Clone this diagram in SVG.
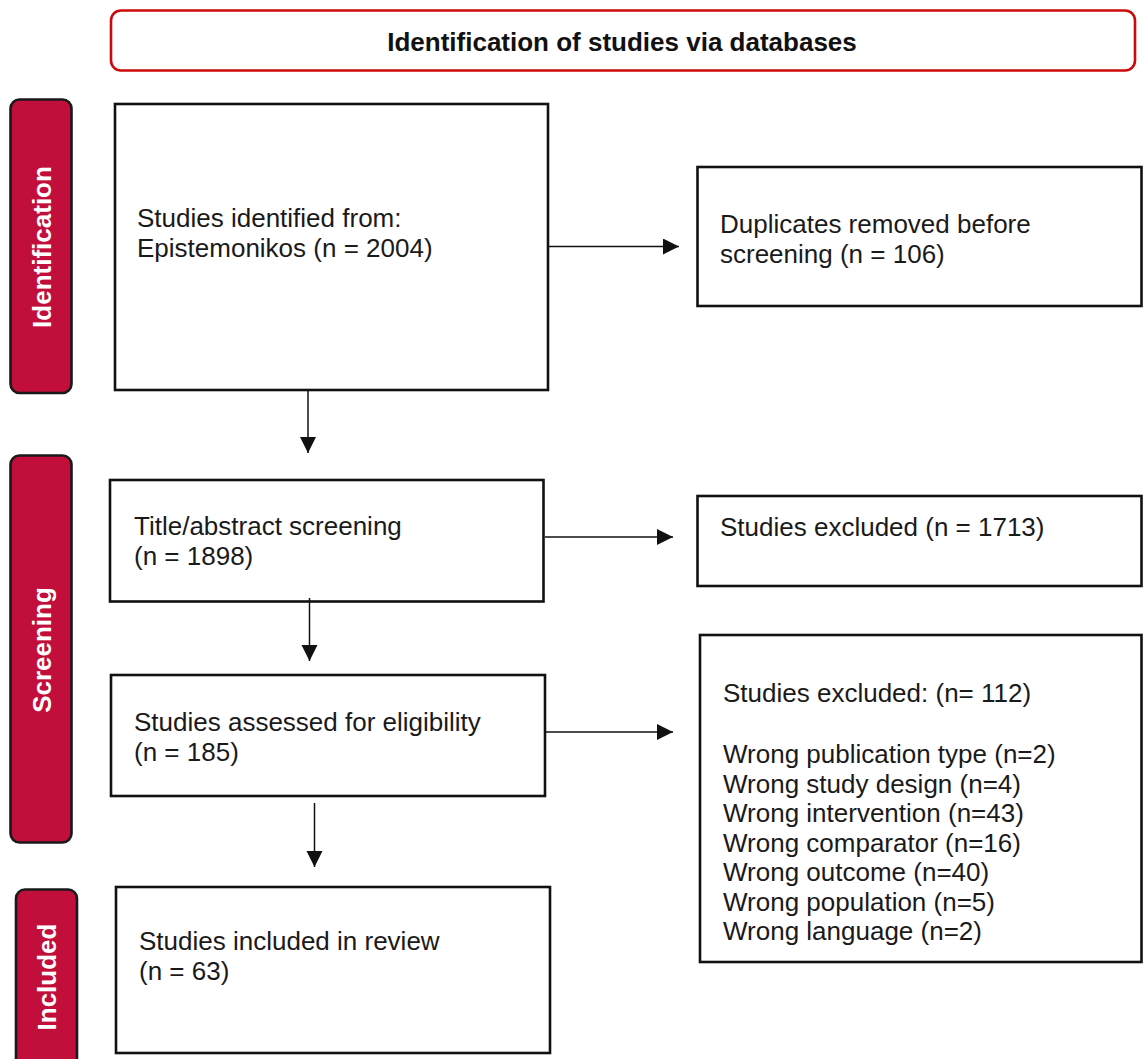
<svg xmlns="http://www.w3.org/2000/svg" width="1143" height="1059" viewBox="0 0 1143 1059">
  <style>
    .box { fill: #ffffff; stroke: #111111; stroke-width: 2.6; }
    .pill { fill: #c20e3a; stroke: #1a1a1a; stroke-width: 2.6; }
    .hdr { fill: #ffffff; stroke: #cc0a0a; stroke-width: 2.6; }
    .t { font-family: "Liberation Sans", Arial, sans-serif; font-size: 26px; fill: #1a1a1a; }
    .title { font-family: "Liberation Sans", Arial, sans-serif; font-size: 26px; font-weight: bold; fill: #111111; }
    .pt { font-family: "Liberation Sans", Arial, sans-serif; font-size: 26px; font-weight: bold; fill: #ffffff; }
    .conn { stroke: #111111; stroke-width: 1.5; fill: none; }
  </style>
  <defs>
    <marker id="arr" markerUnits="userSpaceOnUse" markerWidth="17" markerHeight="17" refX="16" refY="8" orient="auto">
      <path d="M0,0 L16,8 L0,16 z" fill="#111111"/>
    </marker>
  </defs>
  <rect width="1143" height="1059" fill="#ffffff"/>

  <g id="header">
    <rect class="hdr" x="111" y="10.5" width="1024" height="60" rx="10"/>
    <text class="title" x="622" y="51" text-anchor="middle">Identification of studies via databases</text>
  </g>

  <g id="phase-identification">
    <rect class="pill" x="10.5" y="99.5" width="61" height="293.5" rx="9"/>
    <text class="pt" text-anchor="middle" transform="translate(50.5,247) rotate(-90)">Identification</text>
  </g>
  <g id="phase-screening">
    <rect class="pill" x="10.5" y="455.5" width="61" height="387" rx="9"/>
    <text class="pt" text-anchor="middle" transform="translate(50.5,650) rotate(-90)">Screening</text>
  </g>
  <g id="phase-included">
    <rect class="pill" x="16" y="889.5" width="61" height="180" rx="9"/>
    <text class="pt" text-anchor="middle" transform="translate(56,977) rotate(-90)">Included</text>
  </g>

  <g id="identified">
    <rect class="box" x="115" y="104" width="433" height="286"/>
    <text class="t" x="137" y="227">Studies identified from:</text>
    <text class="t" x="137" y="257">Epistemonikos (n = 2004)</text>
  </g>
  <g id="duplicates">
    <rect class="box" x="697.5" y="167" width="444" height="139"/>
    <text class="t" x="720" y="233">Duplicates removed before</text>
    <text class="t" x="720" y="263">screening (n = 106)</text>
  </g>
  <g id="screened">
    <rect class="box" x="110" y="480" width="433.5" height="121.5"/>
    <text class="t" x="134" y="535">Title/abstract screening</text>
    <text class="t" x="134" y="565">(n = 1898)</text>
  </g>
  <g id="excluded-screening">
    <rect class="box" x="697.5" y="496" width="444" height="90"/>
    <text class="t" x="720" y="536">Studies excluded (n = 1713)</text>
  </g>
  <g id="eligibility">
    <rect class="box" x="111" y="675" width="434" height="121"/>
    <text class="t" x="134" y="731">Studies assessed for eligibility</text>
    <text class="t" x="134" y="761">(n = 185)</text>
  </g>
  <g id="excluded-eligibility">
    <rect class="box" x="700" y="635" width="441.5" height="327"/>
    <text class="t" x="723" y="702">Studies excluded: (n= 112)</text>
    <text class="t" x="723" y="763">Wrong publication type (n=2)</text>
    <text class="t" x="723" y="792.5">Wrong study design (n=4)</text>
    <text class="t" x="723" y="822">Wrong intervention (n=43)</text>
    <text class="t" x="723" y="851.5">Wrong comparator (n=16)</text>
    <text class="t" x="723" y="881">Wrong outcome (n=40)</text>
    <text class="t" x="723" y="910.5">Wrong population (n=5)</text>
    <text class="t" x="723" y="940">Wrong language (n=2)</text>
  </g>
  <g id="included">
    <rect class="box" x="116" y="887" width="434" height="166"/>
    <text class="t" x="139" y="950">Studies included in review</text>
    <text class="t" x="139" y="980">(n = 63)</text>
  </g>

  <g id="connectors">
    <path class="conn" d="M549,246.5 H679" marker-end="url(#arr)"/>
    <path class="conn" d="M308,391 V453" marker-end="url(#arr)"/>
    <path class="conn" d="M545,537 H673" marker-end="url(#arr)"/>
    <path class="conn" d="M309.5,598 V661" marker-end="url(#arr)"/>
    <path class="conn" d="M546,732 H673" marker-end="url(#arr)"/>
    <path class="conn" d="M314.5,803 V867" marker-end="url(#arr)"/>
  </g>
</svg>
